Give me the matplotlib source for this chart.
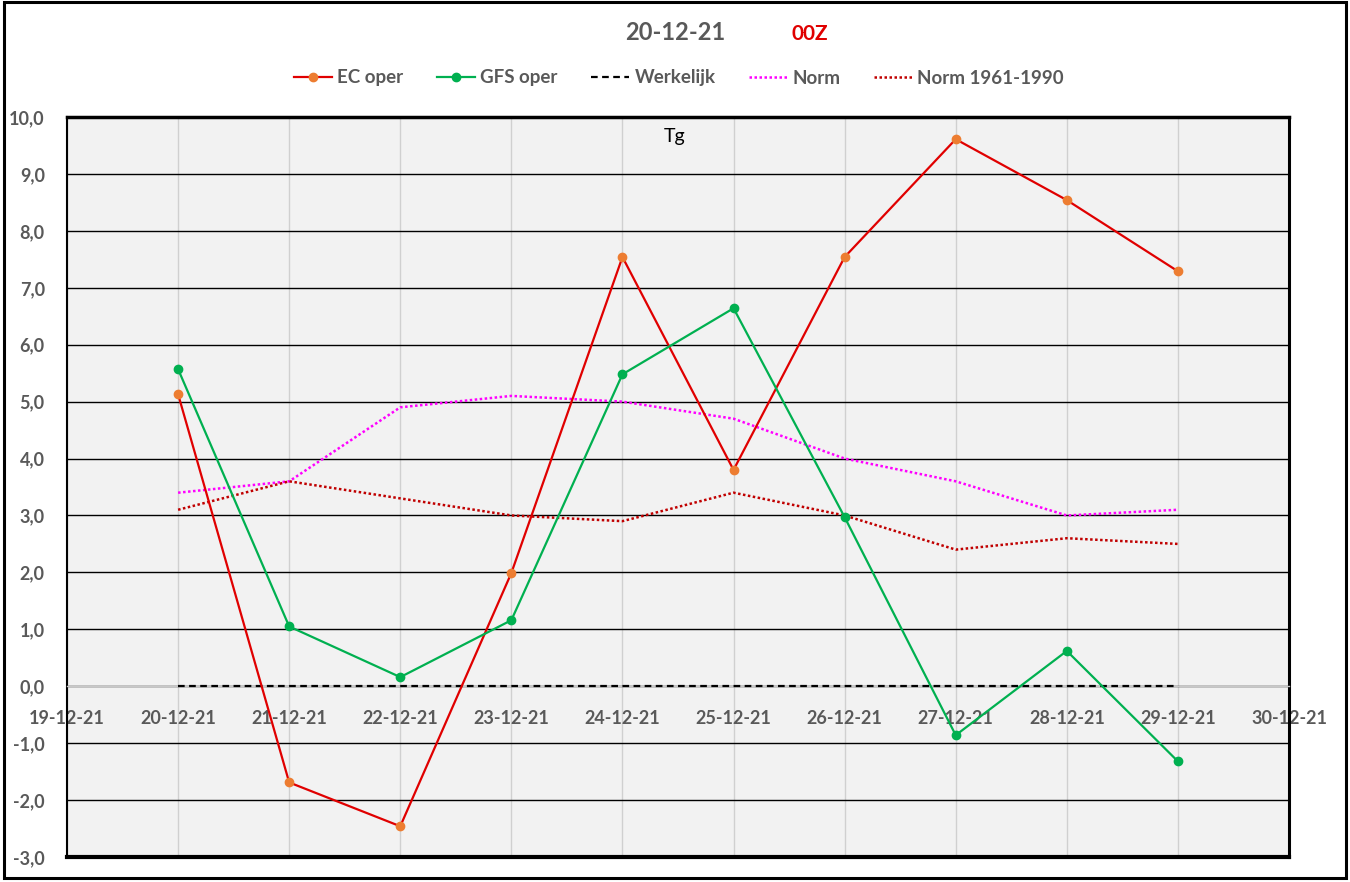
import pandas as pd
import numpy as np
import matplotlib
matplotlib.use("Agg")
import matplotlib.pyplot as plt
import matplotlib.dates as mdates
from matplotlib.patches import Rectangle
from matplotlib.ticker import FuncFormatter

plt.rcParams['font.family'] = ['Lato', 'DejaVu Sans']

dates = pd.date_range("2021-12-20", "2021-12-29", freq="D")
ec_oper = [5.13, -1.69, -2.46, 1.99, 7.54, 3.80, 7.54, 9.61, 8.54, 7.29]
gfs_oper = [5.57, 1.05, 0.16, 1.16, 5.48, 6.64, 2.97, -0.86, 0.62, -1.32]
werkelijk = [0, 0, 0, 0, 0, 0, 0, 0, 0, 0]
norm = [3.4, 3.6, 4.9, 5.1, 5.0, 4.7, 4.0, 3.6, 3.0, 3.1]
norm_6190 = [3.1, 3.6, 3.3, 3.0, 2.9, 3.4, 3.0, 2.4, 2.6, 2.5]

grey = '#595959'

fig = plt.figure(figsize=(13.5, 8.82), dpi=100)
ax = fig.add_axes([67 / 1350, 25 / 882, 1222 / 1350, 740 / 882])
ax.set_facecolor('#f2f2f2')

ax.plot(dates, ec_oper, color='#e00000', lw=1.6, marker='o', ms=6,
        mfc='#ed7d31', mec='#ed7d31', label='EC oper', zorder=5)
ax.plot(dates, gfs_oper, color='#00b050', lw=1.6, marker='o', ms=6,
        mfc='#00b050', mec='#00b050', label='GFS oper', zorder=5)
ax.plot(dates, werkelijk, color='black', lw=1.6, ls=(0, (3, 2)), label='Werkelijk', zorder=4)
ax.plot(dates, norm, color='#ff00ff', lw=1.8, ls=(0, (1, 1)), label='Norm', zorder=4)
ax.plot(dates, norm_6190, color='#c00000', lw=1.8, ls=(0, (1, 1)), label='Norm 1961-1990', zorder=4)

ax.set_ylim(-3, 10)
ax.set_yticks(np.arange(-3, 11, 1))
ax.yaxis.set_major_formatter(FuncFormatter(lambda v, p: f"{v:.1f}".replace('.', ',')))
ax.set_xlim(pd.Timestamp("2021-12-19"), pd.Timestamp("2021-12-30"))
ax.xaxis.set_major_locator(mdates.DayLocator())
ax.xaxis.set_major_formatter(mdates.DateFormatter('%d-%m-%y'))

ax.grid(axis='y', color='black', lw=1.0)
ax.grid(axis='x', color='#d0d0d0', lw=1.0)
ax.set_axisbelow(True)

# x-axis crosses at 0, plot border drawn separately
ax.spines['bottom'].set_position(('data', 0))
ax.spines['bottom'].set_color('#c8c8c8')
ax.spines['bottom'].set_linewidth(1.0)
ax.spines['top'].set_linewidth(2.5)
ax.spines['left'].set_linewidth(1.5)
ax.spines['right'].set_linewidth(2.2)
ax.axhline(-3, color='black', lw=3, clip_on=False, zorder=6)

ax.tick_params(axis='x', length=0, pad=17, labelsize=13, labelcolor=grey)
ax.tick_params(axis='y', length=0, pad=16, labelsize=13, labelcolor=grey)
for lab in ax.get_xticklabels() + ax.get_yticklabels():
    lab.set_fontweight('bold')

ax.text(0.497, 0.973, 'Tg', transform=ax.transAxes, ha='center', va='center',
        fontsize=14, color='black')

fig.text(675 / 1350, 1 - 33 / 882, '20-12-21', ha='center', va='center',
         fontsize=17, fontweight='bold', color=grey)
fig.text(810 / 1350, 1 - 34 / 882, '00Z', ha='center', va='center',
         fontsize=15, fontweight='bold', color='#e00000')

fig.legend(loc='center', bbox_to_anchor=(0.503, 1 - 78 / 882), ncol=5, frameon=False,
           prop={'weight': 'bold', 'size': 13.5}, labelcolor=grey,
           handlelength=2.0, handletextpad=0.3, columnspacing=1.8)

fig.patches.append(Rectangle((4 / 1350, 4 / 882), 1342 / 1350, 876 / 882,
                             transform=fig.transFigure, fill=False,
                             edgecolor='black', lw=2.2))

fig.savefig('out.png', dpi=100)
